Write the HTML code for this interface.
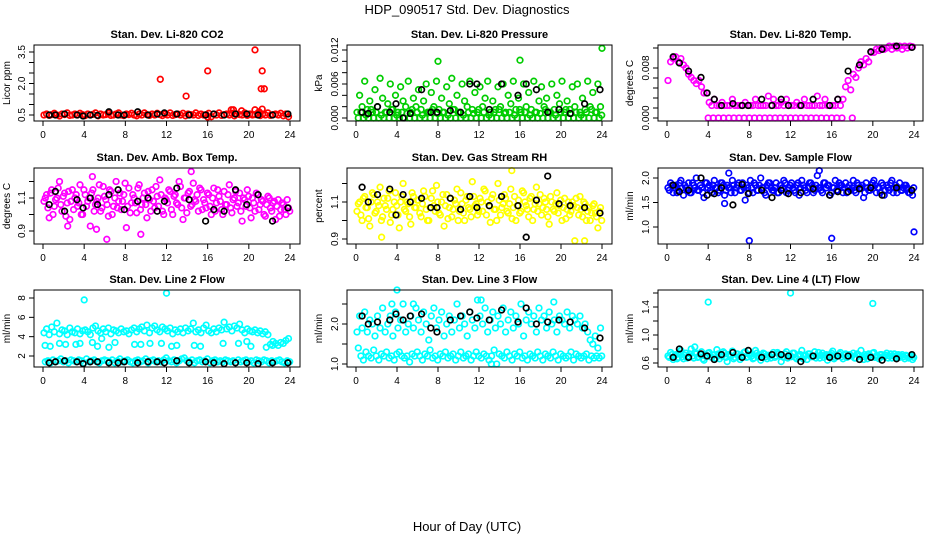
<!DOCTYPE html>
<html><head><meta charset="utf-8"><style>
html,body{margin:0;padding:0;background:#fff;}
svg{display:block;font-family:"Liberation Sans",sans-serif;}
</style></head><body>
<svg id="chart" width="936" height="540" viewBox="0 0 936 540" xmlns="http://www.w3.org/2000/svg">
<rect x="0" y="0" width="936" height="540" fill="#fff"/>
<text x="467" y="14" font-size="13" text-anchor="middle">HDP_090517  Std. Dev. Diagnostics</text>
<text x="467" y="531" font-size="13" text-anchor="middle">Hour of Day (UTC)</text>
</svg>
<script>
// ---- shared data ----
const blackHours = [0.6,1.2,2.1,3.3,3.9,4.6,5.3,6.4,7.3,7.9,9.2,10.2,11.1,11.8,13.0,14.2,15.8,16.6,17.6,18.7,19.8,20.9,22.3,23.8];
const xTicks = [0,4,8,12,16,20,24];

// CO2
const co2A = [0.5,0.55,0.48,0.52,0.58,0.5,0.45,0.55,0.52,0.6,0.48,0.5,0.55,0.5,0.58,0.52,0.47,0.55,0.5,0.53,0.6,0.46,0.55,0.5,
0.52,0.58,0.48,0.5,0.55,0.6,0.5,0.47,0.55,0.52,0.58,0.5,0.46,0.55,0.5,0.6,0.52,0.48,0.55,0.5,0.58,0.52,0.47,0.55,
0.5,0.6,0.48,0.52,0.55,0.5,0.58,0.46,0.55,0.52,0.5,0.6,0.48,0.55,0.5,0.52,0.58,0.42,0.55,0.5,0.6,0.48,0.52,0.55,
0.5,0.58,0.46,0.55,0.52,0.5,0.6,0.48,0.55,0.5,0.52,0.58,0.47,0.55,0.5,0.6,0.48,0.52,0.55,0.5,0.58,0.46,0.55,0.42];
const co2ExtraT = [11.4,13.9,16.0,18.3,18.5,19.3,20.6,20.6,21.3,21.2,21.5,21.3,21.0,16.0];
const co2ExtraV = [2.2,1.4,2.6,0.75,0.75,0.7,3.6,0.75,2.6,1.75,1.75,0.78,0.65,0.4];
const co2Black = [0.5,0.5,0.55,0.5,0.45,0.5,0.48,0.65,0.5,0.5,0.65,0.5,0.55,0.6,0.55,0.5,0.5,0.55,0.5,0.55,0.55,0.5,0.5,0.55];

// Pressure
const pressA = [0.001,0.004,0.002,0.0065,0.0015,0.003,0.001,0.005,0.002,0.007,0.0035,0.001,0.0025,0.006,0.0015,0.004,0.001,0.0055,0.003,0.002,0.0065,0.001,0.0035,0.002,
0.005,0.0015,0.003,0.006,0.001,0.0045,0.002,0.0065,0.0015,0.0035,0.001,0.0055,0.0025,0.007,0.0015,0.004,0.001,0.006,0.003,0.002,0.0065,0.0015,0.0045,0.001,
0.0055,0.002,0.0035,0.0065,0.001,0.003,0.0015,0.0055,0.002,0.006,0.001,0.004,0.0025,0.0065,0.0015,0.0035,0.001,0.006,0.002,0.0045,0.0015,0.0065,0.001,0.003,
0.0055,0.002,0.0035,0.001,0.006,0.0015,0.004,0.0025,0.0065,0.001,0.003,0.0015,0.0055,0.002,0.006,0.001,0.0035,0.0015,0.0065,0.002,0.0045,0.001,0.006,0.002];
const pressB = [0,0.001,0,0.0005,0,0.0015,0,0.001,0,0.0005,0,0.001,0,0.0015,0,0.0005,0,0.001,0,0.0008,0,0.0015,0,0.001,
0,0.0005,0,0.001,0,0.0015,0,0.0008,0,0.001,0,0.0005,0,0.0015,0,0.001,0,0.0005,0,0.001,0,0.0008,0,0.0015,
0,0.001,0,0.0005,0,0.001,0,0.0015,0,0.0008,0,0.001,0,0.0005,0,0.0015,0,0.001,0,0.0005,0,0.001,0,0.0008,
0,0.0015,0,0.001,0,0.0005,0,0.001,0,0.0015,0,0.0008,0,0.001,0,0.0005,0,0.001,0,0.0015,0,0.001,0,0.0005];
const pressExtraT = [8,16,24];
const pressExtraV = [0.010,0.0102,0.0123];
const pressBlack = [0.001,0.0008,0.002,0.001,0.0025,0,0.0008,0.005,0.001,0.001,0.0013,0.001,0.006,0.006,0.0015,0.006,0.004,0.006,0.005,0.001,0.0015,0.0008,0.0025,0.005];

// Li-820 Temp
const tempA = [0.006,0.009,0.0095,0.0098,0.009,0.0095,0.0085,0.008,0.007,0.0065,0.006,0.0055,0.006,0.005,0.004,0.004,
0.0025,0.002,0.003,0.002,0.002,0.0025,0.002,0.002,0.002,0.003,0.002,0.002,0.002,0.002,0.0025,0.002,
0.002,0.002,0.003,0.002,0.002,0.002,0.002,0.0035,0.002,0.003,0.002,0.002,0.0025,0.002,0.003,0.002,
0.002,0.002,0.0025,0.002,0.002,0.003,0.002,0.002,0.002,0.002,0.0035,0.002,0.002,0.003,0.002,0.002,
0.002,0.002,0.003,0.002,0.003,0.005,0.006,0.0045,0.007,0.0065,0.008,0.009,0.0085,0.0095,0.009,0.0105,
0.0105,0.011,0.0108,0.0112,0.011,0.0112,0.0115,0.011,0.0115,0.0112,0.0115,0.011,0.0115,0.0112,0.0115,0.0114];
const tempZeroT = [4,4.5,5,5.5,6,6.5,7,7.5,8,8.5,9,9.5,10,10.5,11,11.5,12,12.5,13,13.5,14,14.5,15,15.5,16,16.5,17,18];
const tempZeroV = [0,0,0,0,0,0,0,0,0,0,0,0,0,0,0,0,0,0,0,0,0,0,0,0,0,0,0,0];
const tempBlack = [0.0098,0.0088,0.0075,0.0065,0.004,0.003,0.002,0.0023,0.002,0.002,0.003,0.002,0.003,0.002,0.002,0.003,0.002,0.003,0.0075,0.0085,0.0106,0.011,0.0115,0.0113];

// Amb box temp
const ambA = [1.08,1.12,0.98,1.15,1.05,1.1,1.2,1.02,1.13,1.07,0.97,1.15,1.1,1.05,1.18,1.0,1.12,1.08,0.93,1.15,1.06,1.1,1.02,1.17,
1.09,0.99,1.14,1.05,1.2,1.08,1.03,1.12,0.92,1.16,1.07,1.1,1.01,1.18,1.06,1.13,0.98,1.09,1.15,1.04,1.11,1.21,1.02,1.1,
1.07,1.14,1.0,1.12,1.06,1.17,0.97,1.1,1.13,1.05,1.19,1.08,1.02,1.15,1.09,1.04,1.12,1.0,1.16,1.07,1.11,1.03,1.14,1.06,
1.18,1.01,1.1,1.05,1.13,0.96,1.09,1.15,1.04,1.1,1.02,1.12,1.06,1.08,0.99,1.11,1.04,1.07,0.97,1.09,1.03,1.06,1.0,1.04];
const ambB = [1.1,1.04,1.13,1.0,1.09,1.16,1.06,1.11,0.99,1.14,1.08,1.03,1.12,1.07,1.0,1.15,1.05,1.1,1.13,1.02,1.08,1.18,1.04,1.11,
1.06,1.15,1.0,1.1,1.04,1.13,1.08,1.19,1.05,1.01,1.12,1.07,1.16,1.03,1.1,1.06,1.14,1.02,1.08,1.17,1.05,1.12,1.0,1.09,
1.15,1.03,1.11,1.07,1.2,1.04,1.1,1.01,1.14,1.06,1.09,1.12,1.16,1.03,1.07,1.13,1.05,1.1,1.02,1.15,1.08,1.0,1.06,1.12,
1.04,1.09,1.14,1.07,1.02,1.1,1.05,1.11,0.98,1.07,1.13,1.03,1.09,1.0,1.06,1.1,1.02,1.08,1.05,0.99,1.07,1.03,1.09,1.02];
const ambExtraT = [6.2,9.5,5.2,2.4,14.4,4.8];
const ambExtraV = [0.85,0.88,0.91,0.93,1.26,1.23];
const ambBlack = [1.06,1.14,1.02,1.09,1.04,1.1,1.06,1.12,1.15,1.03,1.08,1.1,1.02,1.08,1.16,1.09,0.96,1.03,1.02,1.15,1.06,1.12,0.96,1.04];

// Gas stream RH
const rhA = [1.05,1.1,1.0,1.13,1.07,0.97,1.15,1.04,1.1,1.18,1.02,1.08,1.12,0.99,1.06,1.15,1.03,1.1,1.2,1.05,1.09,0.98,1.13,1.07,
1.11,1.02,1.16,1.06,1.0,1.12,1.08,1.19,1.04,1.1,0.97,1.14,1.07,1.02,1.11,1.17,1.05,1.09,1.0,1.13,1.06,1.21,1.08,1.03,
1.12,1.05,1.16,1.1,0.99,1.14,1.06,1.2,1.03,1.09,1.12,1.04,1.17,1.07,1.0,1.11,1.05,1.15,1.08,1.02,1.13,1.06,1.18,1.09,
1.03,1.12,1.06,0.98,1.1,1.05,1.15,1.08,1.0,1.12,1.06,1.03,1.1,0.89,1.07,1.13,1.02,1.09,1.05,1.0,1.08,1.04,0.96,1.07];
const rhB = [1.09,1.03,1.12,1.07,1.01,1.1,1.14,1.05,1.08,1.0,1.12,1.06,1.16,1.03,1.1,1.08,0.96,1.13,1.06,1.1,1.02,1.15,1.07,1.11,
1.04,1.09,1.13,1.0,1.07,1.16,1.05,1.1,1.03,1.14,1.08,1.01,1.12,1.06,1.09,1.0,1.15,1.04,1.11,1.07,1.02,1.13,1.09,1.05,
1.1,1.17,1.03,1.08,1.12,1.06,1.0,1.11,1.07,1.14,1.05,1.09,1.01,1.13,1.08,1.04,1.16,1.1,1.06,1.12,1.0,1.09,1.05,1.14,
1.07,1.1,1.02,1.13,1.06,1.09,1.04,1.11,1.07,1.01,1.1,1.05,1.08,1.12,1.03,1.06,1.1,1.0,1.07,1.04,1.09,1.02,1.05,1.0];
const rhExtraT = [15.2,22.3,2.5];
const rhExtraV = [1.27,0.89,0.91];
const rhBlack = [1.18,1.1,1.14,1.17,1.03,1.14,1.1,1.12,1.07,1.07,1.12,1.06,1.13,1.07,1.08,1.13,1.08,0.91,1.11,1.24,1.09,1.08,1.07,1.04];

// Sample flow
const sfA = [1.8,1.9,1.7,1.85,1.75,1.95,1.65,1.8,1.9,1.7,1.85,2.0,1.75,1.8,1.6,1.9,1.85,1.7,1.95,1.8,1.75,1.9,1.65,1.85,
1.8,1.95,1.7,1.85,1.75,1.9,1.55,1.8,1.95,1.7,1.85,1.75,2.0,1.8,1.65,1.9,1.8,1.75,1.9,1.7,1.85,1.95,1.7,1.8,
1.9,1.75,1.85,1.65,1.95,1.8,1.7,1.9,1.85,1.75,2.05,1.8,1.7,1.9,1.85,1.65,1.8,1.95,1.75,1.85,1.7,1.9,1.8,1.75,
1.95,1.7,1.85,1.8,1.6,1.9,1.75,1.85,1.95,1.7,1.8,1.9,1.65,1.85,1.75,1.95,1.8,1.7,1.9,1.75,1.85,1.8,1.7,1.65];
const sfB = [1.75,1.85,1.8,1.7,1.9,1.8,1.85,1.75,1.7,1.9,1.8,1.75,1.85,1.7,1.9,1.8,1.75,1.85,1.8,1.7,1.9,1.85,1.75,1.8,
1.7,1.85,1.8,1.9,1.75,1.8,1.85,1.7,1.8,1.9,1.75,1.85,1.8,1.7,1.85,1.9,1.75,1.8,1.7,1.85,1.8,1.9,1.75,1.85,
1.8,1.7,1.9,1.8,1.85,1.75,1.8,1.9,1.7,1.85,1.8,1.75,1.9,1.8,1.85,1.7,1.8,1.75,1.9,1.85,1.8,1.7,1.85,1.8,
1.75,1.9,1.8,1.85,1.7,1.8,1.75,1.9,1.85,1.8,1.7,1.85,1.75,1.8,1.9,1.7,1.85,1.8,1.75,1.8,1.85,1.7,1.75,1.8];
const sfExtraT = [8,16,24,6,14.8,5.6];
const sfExtraV = [0.72,0.77,0.9,2.1,2.15,1.48];
const sfBlack = [1.85,1.72,1.75,2.0,1.65,1.68,1.8,1.45,1.87,1.68,1.75,1.6,1.75,1.68,1.7,1.78,1.65,1.72,1.72,1.78,1.8,1.65,1.8,1.75];

// Line 2 flow
const l2A = [4.4,4.8,4.2,5.0,4.5,5.4,4.3,4.7,4.6,4.2,4.9,4.5,4.4,4.8,4.3,4.6,4.7,4.5,4.2,4.9,5.1,4.6,4.4,4.8,
4.5,4.9,4.3,4.7,4.6,4.4,4.8,4.5,4.6,4.3,4.7,4.9,4.5,4.8,5.0,4.6,5.2,4.4,4.9,5.1,4.7,4.5,5.0,4.8,
4.6,4.9,4.3,4.7,4.5,4.8,4.4,4.9,4.6,4.8,5.4,4.5,4.7,4.4,4.9,5.2,4.6,4.4,4.8,4.5,4.9,4.7,5.5,4.8,
5.0,4.6,5.1,4.9,5.3,4.7,4.4,4.8,4.6,4.5,4.7,4.4,4.6,4.3,4.5,4.2,3.2,3.5,3.3,3.1,3.4,3.3,3.6,3.8];
const l2B = [1.4,1.5,1.3,1.6,1.4,1.5,1.7,1.4,1.5,1.3,1.6,1.5,1.4,1.6,1.5,1.3,1.7,1.4,1.5,1.6,1.4,1.3,1.5,1.6,
1.5,1.4,1.6,1.3,1.5,1.7,1.4,1.5,1.6,1.4,1.3,1.5,1.6,1.4,1.5,1.7,1.3,1.5,1.6,1.4,1.5,1.4,1.6,1.8,
1.5,1.4,1.6,1.3,1.5,1.7,1.8,1.5,1.4,1.6,1.3,1.5,1.6,1.4,1.5,1.7,1.3,1.5,1.6,1.4,1.5,1.4,1.6,1.5,
1.4,1.5,1.3,1.6,1.4,1.5,1.6,1.4,1.5,1.3,1.6,1.5,1.4,1.6,1.5,1.3,1.5,1.4,1.5,1.6,1.4,1.3,1.5,1.4];
const l2ExtraT = [0.2,0.7,1.6,2.2,3.2,3.6,4.8,5.3,5.7,6.4,7.0,8.9,9.5,10.4,11.5,12.5,13.0,14.7,15.3,17.5,19.0,19.8,20.2,21.7,22.3,4,12];
const l2ExtraV = [3.1,3.0,3.3,3.2,3.2,3.3,3.4,3.0,3.8,2.9,3.4,3.2,3.2,3.3,3.3,3.0,3.1,3.1,3.0,3.3,3.3,3.5,3.0,2.9,3.1,7.8,8.5];
const l2Black = [1.3,1.4,1.5,1.4,1.2,1.4,1.4,1.3,1.3,1.4,1.3,1.4,1.4,1.3,1.5,1.3,1.4,1.3,1.2,1.3,1.3,1.2,1.3,1.3];

// Line 3 flow
const l3A = [1.8,2.2,1.9,2.3,1.8,2.1,2.0,1.7,2.2,1.9,2.4,1.8,2.0,2.2,1.7,2.3,1.9,2.1,2.5,1.8,2.0,2.2,1.9,2.4,
2.1,1.8,2.3,2.0,1.6,2.2,2.4,1.9,2.1,2.3,1.7,2.0,2.2,1.8,2.1,2.5,1.9,2.2,2.0,1.7,2.3,2.1,1.9,2.6,
2.2,2.0,2.4,1.8,2.1,2.3,1.9,2.2,2.0,2.4,1.8,2.1,2.3,1.9,2.2,2.0,2.5,1.7,2.1,2.3,2.0,2.2,1.8,2.4,
2.1,2.2,1.9,2.3,2.0,2.1,1.8,2.2,2.1,2.0,2.3,1.9,2.2,2.1,2.0,2.2,1.9,2.0,1.8,1.6,1.5,1.7,1.4,1.9];
const l3B = [1.4,1.2,1.1,1.3,1.2,1.15,1.35,1.2,1.1,1.25,1.2,1.3,1.15,1.2,1.1,1.25,1.3,1.2,1.15,1.2,1.05,1.25,1.2,1.3,
1.2,1.1,1.25,1.2,1.35,1.15,1.2,1.1,1.25,1.2,1.3,1.15,1.2,1.25,1.1,1.2,1.3,1.15,1.2,1.25,1.1,1.2,1.3,1.2,
1.15,1.25,1.2,1.1,1.2,1.35,1.0,1.25,1.2,1.15,1.3,1.2,1.1,1.25,1.2,1.3,1.15,1.2,1.1,1.25,1.2,1.15,1.3,1.2,
1.1,1.25,1.2,1.15,1.3,1.2,1.1,1.25,1.2,1.15,1.2,1.3,1.1,1.25,1.2,1.15,1.2,1.25,1.1,1.2,1.15,1.2,1.15,1.2];
const l3ExtraT = [4,13.2,3.5,19.3,12.2,5.6];
const l3ExtraV = [2.85,1.0,2.5,2.55,2.6,2.5];
const l3Black = [2.2,2.0,2.05,2.1,2.25,2.1,2.2,2.25,1.9,1.8,2.1,2.2,2.3,2.15,2.1,2.35,2.05,2.4,2.0,2.05,2.1,2.05,1.9,1.65];

// Line 4 flow
const l4A = [0.7,0.75,0.65,0.72,0.68,0.78,0.66,0.74,0.7,0.8,0.67,0.73,0.69,0.76,0.64,0.71,0.75,0.68,0.72,0.79,0.66,0.7,0.74,0.62,
0.71,0.77,0.68,0.73,0.65,0.7,0.76,0.69,0.72,0.66,0.78,0.7,0.64,0.74,0.69,0.71,0.67,0.75,0.7,0.73,0.62,0.68,0.76,0.71,
0.69,0.74,0.66,0.72,0.78,0.7,0.65,0.73,0.69,0.76,0.7,0.67,0.74,0.71,0.64,0.72,0.77,0.68,0.7,0.75,0.66,0.73,0.69,0.71,
0.74,0.67,0.72,0.78,0.65,0.7,0.73,0.68,0.75,0.7,0.66,0.72,0.69,0.74,0.7,0.67,0.73,0.71,0.68,0.72,0.66,0.7,0.69,0.65];
const l4B = [0.68,0.72,0.7,0.66,0.74,0.69,0.71,0.67,0.73,0.7,0.75,0.68,0.72,0.66,0.7,0.74,0.69,0.71,0.67,0.73,0.7,0.76,0.68,0.72,
0.7,0.66,0.73,0.69,0.71,0.75,0.68,0.72,0.7,0.67,0.74,0.69,0.71,0.73,0.66,0.7,0.72,0.68,0.75,0.7,0.69,0.73,0.67,0.71,
0.74,0.68,0.7,0.72,0.66,0.71,0.73,0.69,0.7,0.67,0.75,0.71,0.68,0.72,0.7,0.74,0.66,0.7,0.73,0.69,0.71,0.68,0.72,0.7,
0.67,0.73,0.7,0.69,0.72,0.66,0.71,0.74,0.68,0.7,0.72,0.69,0.71,0.67,0.73,0.7,0.68,0.72,0.7,0.69,0.71,0.67,0.7,0.68];
const l4ExtraT = [4,12,20,2.7];
const l4ExtraV = [1.47,1.6,1.45,0.83];
const l4Black = [0.68,0.8,0.68,0.73,0.7,0.65,0.72,0.75,0.68,0.78,0.68,0.72,0.72,0.7,0.62,0.7,0.68,0.7,0.7,0.65,0.68,0.64,0.66,0.72];

// ---- drawing ----
const NS = 'http://www.w3.org/2000/svg';
const svg = document.getElementById('chart');
function mk(tag, attrs, parent){ const e=document.createElementNS(NS,tag); for(const k in attrs) e.setAttribute(k,attrs[k]); (parent||svg).appendChild(e); return e; }
const gridA = co2A.map((_,i)=>0.1+0.25*i);
const gridB = co2A.map((_,i)=>0.225+0.25*i);

const cols = [{L:34,R:300,x0:43,x1:290,yl:10},{L:347,R:612,x0:356,x1:602,yl:322},{L:658,R:923,x0:667,x1:914,yl:633}];
const rows = [{T:45,B:121},{T:168,B:244},{T:290,B:367}];

const panels = [
 {name:'co2',title:'Stan. Dev. Li-820 CO2',ylab:'Licor ppm',c:0,r:0,cal:[0.5,115,3.5,52],ticks:[0.5,1,1.5,2,2.5,3,3.5],labs:{'0.5':'0.5','2':'2.0','3.5':'3.5'},color:'#ff0000',
  series:[[gridA,co2A],[co2ExtraT,co2ExtraV]],black:co2Black},
 {name:'pressure',title:'Stan. Dev. Li-820 Pressure',ylab:'kPa',c:1,r:0,cal:[0,118,0.012,50],ticks:[0,0.002,0.004,0.006,0.008,0.01,0.012],labs:{'0':'0.000','0.006':'0.006','0.012':'0.012'},color:'#00cd00',
  series:[[gridB,pressB],[gridA,pressA],[pressExtraT,pressExtraV]],black:pressBlack},
 {name:'li820-temp',title:'Stan. Dev. Li-820 Temp.',ylab:'degrees C',c:2,r:0,cal:[0,118,0.008,68],ticks:[0,0.0016,0.0032,0.0048,0.0064,0.008,0.0112],labs:{'0':'0.000','0.008':'0.008'},color:'#ff00ff',
  series:[[tempZeroT,tempZeroV],[gridA,tempA]],black:tempBlack},
 {name:'amb-box-temp',title:'Stan. Dev. Amb. Box Temp.',ylab:'degrees C',c:0,r:1,cal:[1.1,198,0.9,231],ticks:[0.9,1.0,1.1,1.2],labs:{'0.9':'0.9','1.1':'1.1'},color:'#ff00ff',
  series:[[gridA,ambA],[gridB,ambB],[ambExtraT,ambExtraV]],black:ambBlack},
 {name:'gas-stream-rh',title:'Stan. Dev. Gas Stream RH',ylab:'percent',c:1,r:1,cal:[1.1,202,0.9,239],ticks:[0.9,1.0,1.1,1.2],labs:{'0.9':'0.9','1.1':'1.1'},color:'#ffff00',
  series:[[gridA,rhA],[gridB,rhB],[rhExtraT,rhExtraV]],black:rhBlack},
 {name:'sample-flow',title:'Stan. Dev. Sample Flow',ylab:'ml/min',c:2,r:1,cal:[2.0,178,1.0,227],ticks:[1.0,1.5,2.0],labs:{'1':'1.0','1.5':'1.5','2':'2.0'},color:'#0000ff',
  series:[[gridA,sfA],[gridB,sfB],[sfExtraT,sfExtraV]],black:sfBlack},
 {name:'line2-flow',title:'Stan. Dev. Line 2 Flow',ylab:'ml/min',c:0,r:2,cal:[8,298,2,356],ticks:[2,4,6,8],labs:{'2':'2','4':'4','6':'6','8':'8'},color:'#00ffff',
  series:[[gridA,l2A],[gridB,l2B],[l2ExtraT,l2ExtraV]],black:l2Black},
 {name:'line3-flow',title:'Stan. Dev. Line 3 Flow',ylab:'ml/min',c:1,r:2,cal:[2.0,324,1.0,364],ticks:[1.0,1.5,2.0,2.5],labs:{'1':'1.0','2':'2.0'},color:'#00ffff',
  series:[[gridA,l3A],[gridB,l3B],[l3ExtraT,l3ExtraV]],black:l3Black},
 {name:'line4-flow',title:'Stan. Dev. Line 4 (LT) Flow',ylab:'ml/min',c:2,r:2,cal:[1.4,307,0.6,363],ticks:[0.6,0.8,1.0,1.2,1.4,1.6],labs:{'0.6':'0.6','1':'1.0','1.4':'1.4'},color:'#00ffff',
  series:[[gridA,l4A],[gridB,l4B],[l4ExtraT,l4ExtraV]],black:l4Black}
];

panels.forEach(p=>{
  const col=cols[p.c], row=rows[p.r];
  const g = mk('g',{});
  
  
  const xs = h => col.x0 + (h/24)*(col.x1-col.x0);
  const ys = v => p.cal[1] + (v-p.cal[0])*(p.cal[3]-p.cal[1])/(p.cal[2]-p.cal[0]);
  const t = mk('text',{x:(col.L+col.R)/2,y:row.T-7,'font-size':11,'font-weight':'bold','text-anchor':'middle'},g);
  t.textContent = p.title;
  
  
  const pts = mk('g',{fill:'none','stroke-width':1.7},g);
  
  
  p.series.forEach(s=>{
    s[1].forEach((v,i)=>{
      if(v===null) return;
      const c = mk('circle',{cx:xs(s[0][i]).toFixed(1),cy:ys(v).toFixed(1),r:2.8,stroke:p.color},pts);
      
      
    });
  });
  p.black.forEach((v,i)=>{
    const c = mk('circle',{cx:xs(blackHours[i]).toFixed(1),cy:ys(v).toFixed(1),r:2.8,stroke:'#000'},pts);
    
    
  });
  const box = mk('rect',{x:col.L,y:row.T,width:col.R-col.L,height:row.B-row.T,fill:'none',stroke:'#000','stroke-width':1},g);
  
  
  const xa = mk('g',{},g);
  
  
  mk('line',{x1:xs(0),x2:xs(24),y1:row.B,y2:row.B,stroke:'#000'},xa);
  xTicks.forEach(h=>{
    mk('line',{x1:xs(h),x2:xs(h),y1:row.B,y2:row.B+5,stroke:'#000'},xa);
    const tl = mk('text',{x:xs(h),y:row.B+17,'font-size':10,'text-anchor':'middle'},xa);
    tl.textContent = h;
    
    
  });
  const ya = mk('g',{},g);
  
  
  const yt = p.ticks.map(ys);
  mk('line',{x1:col.L,x2:col.L,y1:Math.min(...yt),y2:Math.max(...yt),stroke:'#000'},ya);
  p.ticks.forEach(v=>{
    const y=ys(v);
    mk('line',{x1:col.L-5,x2:col.L,y1:y,y2:y,stroke:'#000'},ya);
    const key = String(+v.toFixed(4));
    if(p.labs[key]){
      const tl = mk('text',{x:col.L-9,y:y,'font-size':10,'text-anchor':'middle',transform:`rotate(-90 ${col.L-9} ${y})`},ya);
      tl.textContent = p.labs[key];
      
      
    }
  });
  const yc=(row.T+row.B)/2;
  const yl = mk('text',{x:col.yl,y:yc,'font-size':10,'text-anchor':'middle',transform:`rotate(-90 ${col.yl} ${yc})`},g);
  yl.textContent = p.ylab;
  
  
});
</script>
</body></html>
